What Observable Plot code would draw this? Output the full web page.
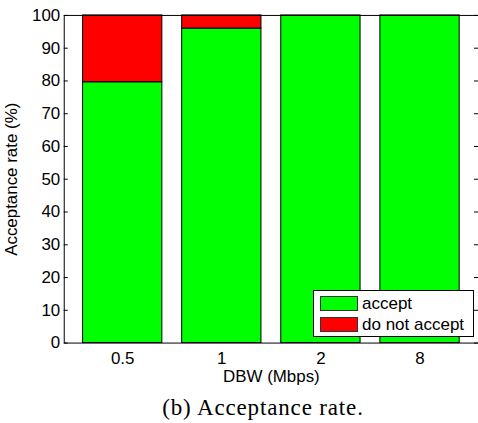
<!DOCTYPE html>
<html><head><meta charset="utf-8">
<script src="https://cdn.jsdelivr.net/npm/d3@7"></script>
<script src="https://cdn.jsdelivr.net/npm/@observablehq/plot@0.6"></script>
<style>
html,body{margin:0;padding:0;background:#fff;overflow:hidden;}
#wrap{position:relative;width:478px;height:423px;overflow:hidden;background:#fff;}
#chart{position:absolute;left:0;top:0;}
#legend{position:absolute;left:313px;top:290px;width:161px;height:47px;box-sizing:border-box;border:1px solid #000;background:#fff;font-family:"Liberation Sans",Arial,Helvetica,sans-serif;font-size:17px;}
.item{position:absolute;left:6px;height:15px;display:flex;align-items:center;}
.sw{width:38px;height:15px;box-sizing:border-box;border:1px solid #333;margin-right:4px;}
.lab{line-height:15px;white-space:nowrap;}
#caption{position:absolute;left:64px;width:398px;top:396px;text-align:center;font-family:"Liberation Serif","Times New Roman",serif;font-size:23px;line-height:23px;letter-spacing:0.85px;white-space:nowrap;}
</style>
</head><body>
<div id="wrap">
<div id="chart"></div>
<div id="legend"></div>
<div id="caption">(b) Acceptance rate.</div>
</div>
<script>
const dbw = ["0.5", "1", "2", "8"];
const acceptRate = [79.6, 96.0, 100, 100];
const rejectRate = [20.4, 4.0, 0, 0];
const statuses = ["accept", "do not accept"];
const colors = ["#00ff00", "#ff0000"];
const yTicks = [0, 10, 20, 30, 40, 50, 60, 70, 80, 90, 100];

const rows = dbw.flatMap((d, i) => [
  {dbw: d, status: statuses[0], value: acceptRate[i]},
  {dbw: d, status: statuses[1], value: rejectRate[i]}
]);

const W = 480, ML = 64, MR = 0;
const plotW = W - ML - MR;

const chart = Plot.plot({
  width: W, height: 392,
  marginTop: 15, marginLeft: ML, marginRight: MR, marginBottom: 48,
  style: {fontFamily: "\"Liberation Sans\", Arial, Helvetica, sans-serif", fontSize: "17px", color: "black", background: "white", overflow: "visible"},
  x: {domain: dbw, paddingInner: 0.2, paddingOuter: 0.19, round: false, label: null},
  y: {domain: [0, 100], label: null},
  color: {domain: statuses, range: colors},
  marks: [
    Plot.barY(rows, {x: "dbw", y: "value", fill: "status", stroke: "black", strokeWidth: 1}),
    Plot.frame({stroke: "black"}),
    Plot.tickY(yTicks, {y: d => d, insetRight: plotW - 4, stroke: "black"}),
    Plot.tickY(yTicks, {y: d => d, insetLeft: plotW - 4, stroke: "black"}),
    Plot.axisY({ticks: yTicks, tickSize: 0, tickPadding: 4, label: "Acceptance rate (%)", labelArrow: "none", labelAnchor: "center", labelOffset: 60}),
    Plot.axisX({tickSize: 0, tickPadding: 9, label: "DBW (Mbps)", labelArrow: "none", labelAnchor: "center", labelOffset: 39})
  ]
});
document.getElementById("chart").appendChild(chart);

const legend = document.getElementById("legend");
statuses.forEach((s, i) => {
  const item = document.createElement("div");
  item.className = "item";
  item.style.top = (5 + i * 21) + "px";
  const sw = document.createElement("div");
  sw.className = "sw";
  sw.style.background = colors[i];
  const lab = document.createElement("span");
  lab.className = "lab";
  lab.textContent = s;
  item.appendChild(sw);
  item.appendChild(lab);
  legend.appendChild(item);
});
</script>
</body></html>
